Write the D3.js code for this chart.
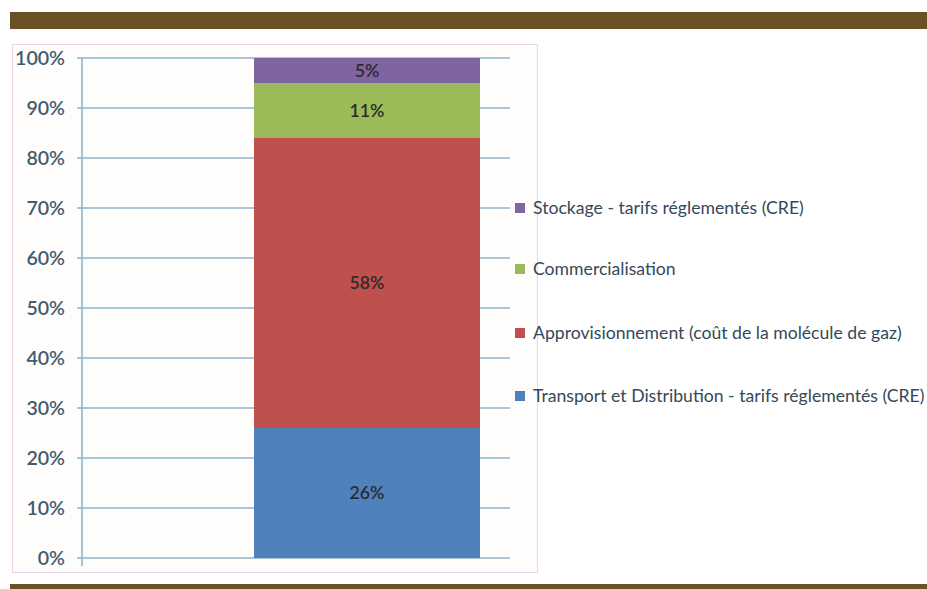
<!DOCTYPE html>
<html><head><meta charset="utf-8">
<script src="https://cdn.jsdelivr.net/npm/d3@7"></script>
<style>body{margin:0;background:#fff}svg{display:block}</style>
</head><body>
<svg id="c" width="927" height="589"></svg>
<script>
const categories = ["Total"];
const seriesNames = ["Transport et Distribution - tarifs réglementés (CRE)", "Approvisionnement (coût de la molécule de gaz)", "Commercialisation", "Stockage - tarifs réglementés (CRE)"];
const seriesValues = [26, 58, 11, 5];
const seriesColors = ["#4F81BD", "#C0504D", "#9BBB59", "#8064A2"];
const yTicks = [0, 10, 20, 30, 40, 50, 60, 70, 80, 90, 100];

const svg = d3.select("#c");
// brown bars
svg.append("rect").attr("x", 10).attr("y", 12).attr("width", 917).attr("height", 17).attr("fill", "#6B5226");
svg.append("rect").attr("x", 10).attr("y", 584).attr("width", 917).attr("height", 5).attr("fill", "#6B5226");
// chart box
svg.append("rect").attr("x", 12.5).attr("y", 44.5).attr("width", 525).attr("height", 528)
  .attr("fill", "#fffcfc").attr("stroke", "#ead6ec").attr("stroke-width", 1);

const y = d3.scaleLinear().domain([0, 100]).range([558, 58]);
const x = d3.scaleBand().domain(categories).range([82, 510]).paddingInner(0.5).paddingOuter(0.4);
const gridColor = "#8DB6CE";

// gridlines
svg.append("g").selectAll("line").data(yTicks).join("line")
  .attr("x1", 77).attr("x2", 510).attr("y1", d => y(d)).attr("y2", d => y(d))
  .attr("stroke", gridColor).attr("stroke-width", 1.6);
// axis line
svg.append("line").attr("x1", 82).attr("x2", 82).attr("y1", y(100)).attr("y2", 566)
  .attr("stroke", gridColor).attr("stroke-width", 1.6);
// tick labels
const tl = svg.append("g").selectAll("text").data(yTicks).join("text")
  .attr("x", 65).attr("y", d => y(d)).attr("dy", "0.35em").attr("text-anchor", "end")
  .attr("font-family", "Lato, 'Open Sans', sans-serif").attr("font-size", 17).attr("font-weight", 600)
  .attr("fill", "#3F5C70").text(d => d + "%");
// fit "100%" to ~50px
const w100 = tl.nodes()[tl.nodes().length - 1].getComputedTextLength();
tl.attr("font-size", 17 * 50 / w100);

// stacked bar
let cum = 0;
const stacks = seriesValues.map((v, i) => { const s = {i, y0: cum, y1: cum + v, v}; cum += v; return s; });
svg.append("g").selectAll("rect").data(stacks).join("rect")
  .attr("x", 254).attr("width", 226)
  .attr("y", d => y(d.y1)).attr("height", d => y(d.y0) - y(d.y1))
  .attr("fill", d => seriesColors[d.i]);
const bl = svg.append("g").selectAll("text").data(stacks).join("text")
  .attr("x", 367).attr("y", d => y((d.y0 + d.y1) / 2)).attr("dy", "0.35em").attr("text-anchor", "middle")
  .attr("font-family", "Lato, 'Open Sans', sans-serif").attr("font-size", 16).attr("font-weight", 600)
  .attr("fill", "#2b2b2b").text(d => d.v + "%");
const w58 = bl.nodes()[1].getComputedTextLength();
bl.attr("font-size", 16 * 35 / w58);

// legend
const legendOrder = [3, 2, 1, 0];
const legendY = [208, 269, 333, 396];
const lg = svg.append("g");
legendOrder.forEach((si, k) => {
  lg.append("rect").attr("x", 515).attr("y", legendY[k] - 5).attr("width", 10).attr("height", 10).attr("fill", seriesColors[si]);
  lg.append("text").attr("x", 533).attr("y", legendY[k]).attr("dy", "0.35em")
    .attr("font-family", "Lato, 'Open Sans', sans-serif").attr("font-size", 14.5).attr("font-weight", 400)
    .attr("fill", "#34495a").text(seriesNames[si]).attr("class", "lt");
});
// fit longest legend entry width
const longest = lg.selectAll("text.lt").nodes().reduce((a, n) => Math.max(a, n.getComputedTextLength()), 0);
const fs = 14.5 * 392 / longest;
lg.selectAll("text.lt").attr("font-size", fs);
</script>
</body></html>
